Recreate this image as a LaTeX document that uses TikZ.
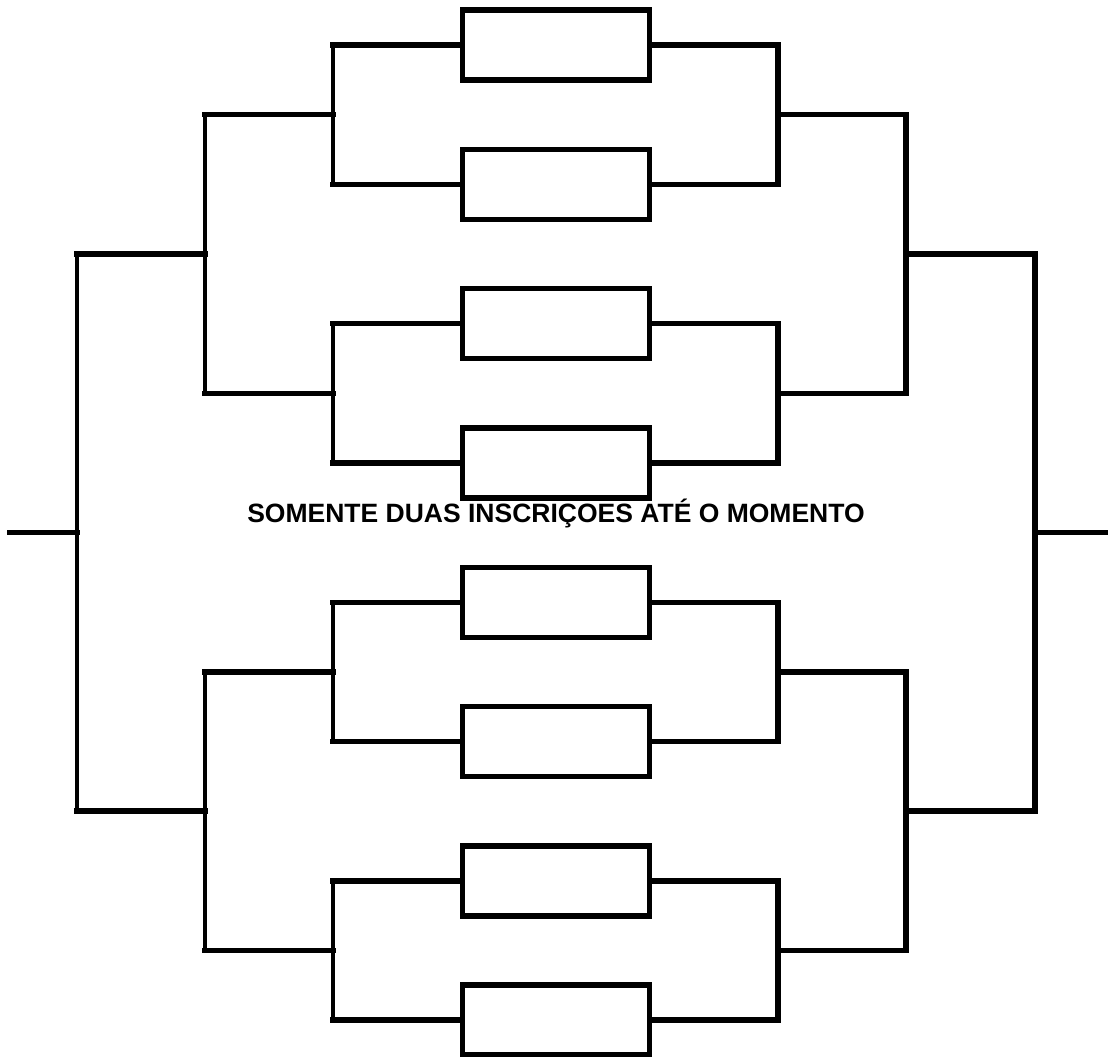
\documentclass[tikz,border=0pt]{standalone}
\usepackage{fontspec}
\setmainfont{Liberation Sans}
\usetikzlibrary{positioning,calc}
\tikzset{
  slot_box/.style={draw=black,line width=5.4pt,minimum width=187pt,minimum height=70pt,
    inner sep=0pt,outer sep=0pt},
  link/.style={draw=black,line width=5.4pt,line cap=rect},
  link_thin/.style={draw=black,line width=3.3pt,line cap=rect},
  note_text/.style={font=\fontsize{26.5}{30}\selectfont\bfseries,inner sep=0pt},
}
\begin{document}
\begin{tikzpicture}[x=1pt,y=-1pt,node distance=69.3pt]
  \useasboundingbox (0,0) rectangle (1109,1057);

  % entry slots
  \node[slot_box] (b1) at (555.75,45) {};
  \node[slot_box, below=of b1] (b2) {};
  \node[slot_box, below=of b2] (b3) {};
  \node[slot_box, below=of b3] (b4) {};
  \node[slot_box, below=of b4] (b5) {};
  \node[slot_box, below=of b5] (b6) {};
  \node[slot_box, below=of b6] (b7) {};
  \node[slot_box, below=of b7] (b8) {};

  % first round
  \foreach \u/\l/\j/\k in {b1/b2/ja/jA,b3/b4/jb/jB,b5/b6/jc/jC,b7/b8/jd/jD} {
    \coordinate (\j) at ($(\u.west)!.5!(\l.west)+(-129.25,0)$);
    \coordinate (\k) at ($(\u.east)!.5!(\l.east)+(128.75,0)$);
    \draw[link] (\u.west) -- (\u.west -| \j) (\l.west) -- (\l.west -| \j);
    \draw[link_thin] (\u.west -| \j) -- (\l.west -| \j);
    \draw[link] (\u.east) -| (\k) |- (\l.east);
  }

  % semifinals
  \coordinate (ka) at ($(ja)!.5!(jb)+(-128,0)$);
  \coordinate (kb) at ($(jc)!.5!(jd)+(-128,0)$);
  \coordinate (kA) at ($(jA)!.5!(jB)+(128,0)$);
  \coordinate (kB) at ($(jC)!.5!(jD)+(128,0)$);
  \draw[link] (ja) -- (ja -| ka) (jb) -- (jb -| ka);
  \draw[link_thin] (ja -| ka) -- (jb -| ka);
  \draw[link] (jc) -- (jc -| kb) (jd) -- (jd -| kb);
  \draw[link_thin] (jc -| kb) -- (jd -| kb);
  \draw[link] (jA) -| (kA) |- (jB);
  \draw[link] (jC) -| (kB) |- (jD);

  % final
  \coordinate (m) at ($(ka)!.5!(kb)+(-128,0)$);
  \coordinate (M) at ($(kA)!.5!(kB)+(129,0)$);
  \coordinate (lin) at ($(m)+(-67.5,0)$);
  \coordinate (rout) at ($(M)+(70,0)$);
  \draw[link] (ka) -- (ka -| m) (kb) -- (kb -| m);
  \draw[link_thin] (ka -| m) -- (kb -| m);
  \draw[link] (kA) -| (M) |- (kB);
  \draw[link] (m) -- (lin);
  \draw[link] (M) -- (rout);

  \node[note_text] (note) at (556,514) {SOMENTE DUAS INSCRIÇOES ATÉ O MOMENTO};
\end{tikzpicture}
\end{document}
